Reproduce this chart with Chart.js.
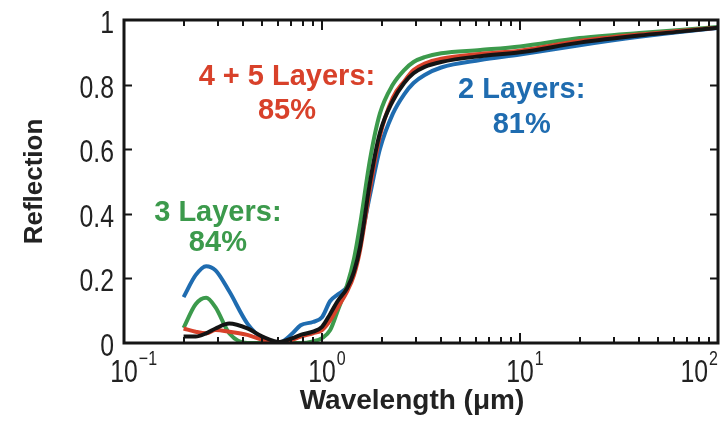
<!DOCTYPE html>
<html>
<head>
<meta charset="utf-8">
<script src="https://cdn.jsdelivr.net/npm/chart.js@4.4.1/dist/chart.umd.min.js"></script>
<style>
  html, body { margin: 0; padding: 0; background: #fff; }
  #wrap { width: 720px; height: 425px; }
</style>
</head>
<body>
<div id="wrap"><canvas id="grafica" width="720" height="425"></canvas></div>
<script>
// wavelength in micrometres
const wavelength = [0.2, 0.23, 0.26, 0.29, 0.34, 0.42, 0.5, 0.61, 0.71, 0.78, 0.9, 1.0, 1.1, 1.2, 1.34, 1.45, 1.56, 1.75, 1.96, 2.28, 2.6, 2.9, 3.3, 4, 6.3, 10, 20, 40, 64, 100]
const twoLayers = [0.142, 0.21, 0.238, 0.225, 0.16, 0.06, 0.015, 0.002, 0.03, 0.055, 0.065, 0.08, 0.13, 0.15, 0.175, 0.23, 0.31, 0.46, 0.6, 0.71, 0.77, 0.805, 0.83, 0.853, 0.876, 0.893, 0.922, 0.948, 0.963, 0.975]
const threeLayers = [0.047, 0.12, 0.14, 0.11, 0.03, 0, 0, 0, 0, 0, 0.005, 0.015, 0.04, 0.1, 0.18, 0.26, 0.37, 0.57, 0.71, 0.8, 0.845, 0.87, 0.885, 0.897, 0.907, 0.918, 0.944, 0.96, 0.969, 0.978]
const fourFiveLayers = [0.045, 0.035, 0.03, 0.04, 0.035, 0.025, 0.01, 0, 0.01, 0.02, 0.03, 0.04, 0.07, 0.11, 0.16, 0.21, 0.29, 0.48, 0.64, 0.76, 0.81, 0.845, 0.865, 0.88, 0.895, 0.905, 0.935, 0.955, 0.966, 0.976]
const otherLayers = [0.02, 0.02, 0.03, 0.045, 0.06, 0.045, 0.02, 0.003, 0.015, 0.025, 0.035, 0.05, 0.09, 0.13, 0.17, 0.22, 0.3, 0.5, 0.65, 0.75, 0.805, 0.835, 0.855, 0.87, 0.888, 0.9, 0.93, 0.952, 0.964, 0.976]

const xDecades = [-1, 0, 1, 2]
const yTicks = [0, 0.2, 0.4, 0.6, 0.8, 1]

// annotation text: [line, x (um), y, colour]
const notes = [
    ['4 + 5 Layers:', 0.665, 0.822, '#d8412a'],
    ['85%', 0.665, 0.718, '#d8412a'],
    ['3 Layers:', 0.298, 0.404, '#3c9a4c'],
    ['84%', 0.298, 0.31, '#3c9a4c'],
    ['2 Layers:', 10.2, 0.783, '#1f6cb0'],
    ['81%', 10.2, 0.675, '#1f6cb0']
]

const sans = "'Liberation Sans', Arial, sans-serif"

function serie(valores){
    return wavelength.map((w, i) => ({x: w, y: valores[i]}))
}

// condensed text: draw with a horizontal squeeze
function texto(ctx, str, x, y, font, escala, align){
    ctx.save()
    ctx.font = font
    ctx.translate(x, y)
    ctx.scale(escala, 1)
    ctx.textAlign = align
    ctx.fillText(str, 0, 0)
    ctx.restore()
}

const marco = {
    id: 'marco',
    afterDraw(chart){
        const {ctx, chartArea: a, scales: {x, y}} = chart
        ctx.save()
        ctx.strokeStyle = '#151515'
        ctx.lineWidth = 2
        // inward ticks
        ctx.beginPath()
        yTicks.slice(1, -1).forEach(v => {
            const py = Math.round(y.getPixelForValue(v)) + 0.5
            ctx.moveTo(a.left, py); ctx.lineTo(a.left + 8, py)
            ctx.moveTo(a.right, py); ctx.lineTo(a.right - 8, py)
        })
        xDecades.slice(0, -1).forEach(d => {
            for (let m = 1; m <= 9; m++) {
                const v = m * Math.pow(10, d)
                const px = Math.round(x.getPixelForValue(v))
                const len = m == 1 ? 10 : 6
                ctx.moveTo(px, a.bottom); ctx.lineTo(px, a.bottom - len)
                ctx.moveTo(px, a.top); ctx.lineTo(px, a.top + len)
            }
        })
        ctx.stroke()
        ctx.lineWidth = 3
        ctx.strokeRect(a.left, a.top, a.width, a.height)

        ctx.fillStyle = '#222'
        ctx.textBaseline = 'alphabetic'
        const sq = 0.8
        // y tick labels
        yTicks.forEach(v => {
            texto(ctx, String(v), a.left - 10, y.getPixelForValue(v) + 13, '31px ' + sans, sq, 'right')
        })
        // x tick labels with superscripts
        xDecades.forEach(d => {
            const px = x.getPixelForValue(Math.pow(10, d))
            const sup = String(d).replace('-', '\u2212')
            ctx.font = '31px ' + sans
            const wBase = ctx.measureText('10').width * sq
            ctx.font = '20px ' + sans
            const wSup = ctx.measureText(sup).width * sq
            let x0 = px - wBase / 2
            if (x0 + wBase + wSup + 3 > chart.width) x0 = chart.width - 3 - wBase - wSup
            texto(ctx, '10', x0, a.bottom + 39, '31px ' + sans, sq, 'left')
            texto(ctx, sup, x0 + wBase + 1, a.bottom + 22, '20px ' + sans, sq, 'left')
        })

        // x axis title
        ctx.textBaseline = 'middle'
        texto(ctx, 'Wavelength (\u03bcm)', 412, 401, 'bold 28px ' + sans, 1, 'center')

        // annotations
        notes.forEach(n => {
            ctx.fillStyle = n[3]
            texto(ctx, n[0], x.getPixelForValue(n[1]), y.getPixelForValue(n[2]), 'bold 29px ' + sans, 1, 'center')
        })
        ctx.restore()
    }
}

const config = {
    type: 'line',
    data: {
        datasets: [
            {label: 'Other', data: serie(otherLayers), borderColor: '#141414'},
            {label: '4 + 5 Layers', data: serie(fourFiveLayers), borderColor: '#d8412a'},
            {label: '3 Layers', data: serie(threeLayers), borderColor: '#3c9a4c'},
            {label: '2 Layers', data: serie(twoLayers), borderColor: '#1f6cb0'}
        ]
    },
    options: {
        responsive: false,
        animation: false,
        devicePixelRatio: 1,
        layout: {padding: {top: 20, right: 2, left: 0, bottom: 0}},
        elements: {
            point: {radius: 0},
            line: {borderWidth: 4, cubicInterpolationMode: 'monotone', fill: false}
        },
        plugins: {legend: {display: false}, tooltip: {enabled: false}},
        scales: {
            x: {
                type: 'logarithmic',
                min: 0.1,
                max: 100,
                grid: {display: false},
                border: {display: false},
                ticks: {display: false},
                afterFit: s => { s.height = 82 }
            },
            y: {
                type: 'linear',
                min: 0,
                max: 1,
                grid: {display: false},
                border: {display: false},
                ticks: {display: false, stepSize: 0.2},
                title: {
                    display: true,
                    text: 'Reflection',
                    color: '#222',
                    font: {family: sans, size: 26, weight: 'bold'},
                    padding: {top: 19, bottom: 0}
                },
                afterFit: s => { s.width = 124 }
            }
        }
    },
    plugins: [marco]
}

new Chart(document.querySelector('#grafica'), config)
</script>
</body>
</html>
